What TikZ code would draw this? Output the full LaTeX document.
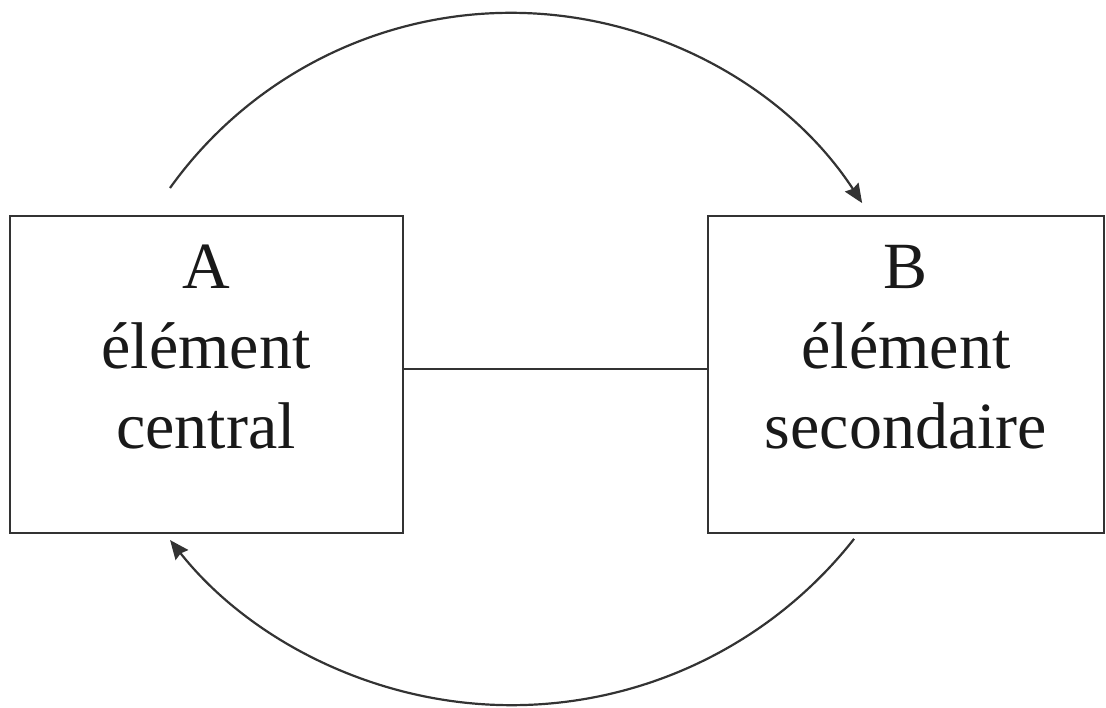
\documentclass[tikz,border=0pt]{standalone}
\usepackage{fontspec}
\setmainfont{Liberation Serif}
\usetikzlibrary{arrows.meta}
\begin{document}
\begin{tikzpicture}[x=1pt,y=1pt,
  box/.style={draw=black!80, line width=2.6pt, minimum width=393pt, minimum height=317pt, inner sep=0pt},
  txt/.style={font=\fontsize{66}{80}\selectfont, align=center, inner sep=0pt, text=black!90},
  conn/.style={draw=black!80, line width=2.2pt},
  link/.style={draw=black!80, line width=2pt},
  arr/.style={conn, -{Stealth[length=19pt,width=16pt,inset=2pt]}}]
\useasboundingbox (0,0) rectangle (1106,707);
\node[box] (A) at (206.5,332.5) {};
\node[box, minimum width=396pt] (B) at (906,332.5) {};
\node[txt, anchor=center] (At) at (206,360) {A\\élément\\central};
\node[txt, anchor=center] (Bt) at (906,360) {B\\élément\\secondaire};
\draw[link] ([yshift=5.5pt]A.east) -- ([yshift=5.5pt]B.west);
\coordinate (c1) at (510.9,274.9);
\coordinate (c2) at (511.6,437.6);
\draw[arr] ([shift={(144.4:419.3)}]c1) arc[start angle=144.4, end angle=33.1, radius=419.3];
\draw[arr] ([shift={(-38.2:435.8)}]c2) arc[start angle=-38.2, end angle=-141.6, radius=435.8];
\end{tikzpicture}
\end{document}
